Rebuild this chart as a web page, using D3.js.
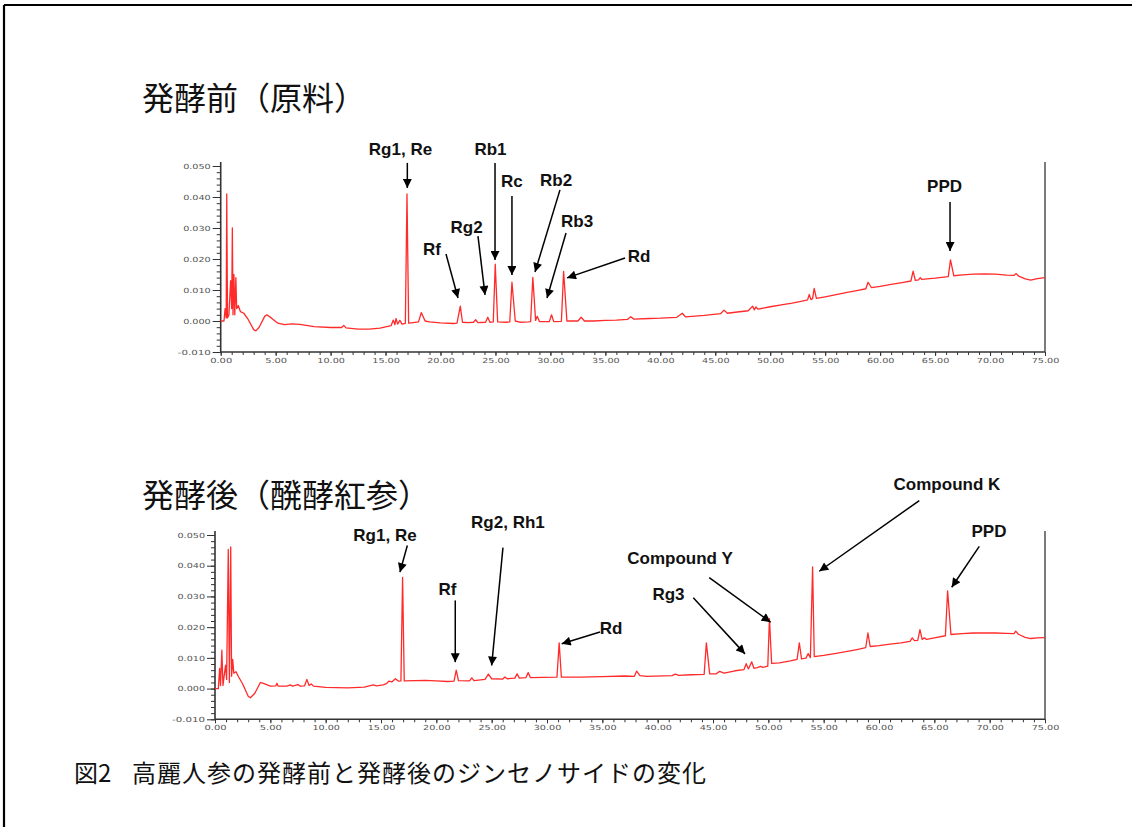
<!DOCTYPE html>
<html><head><meta charset="utf-8">
<script src="https://cdn.jsdelivr.net/npm/d3@7/dist/d3.min.js"></script>
<style>
html,body{margin:0;padding:0;background:#fff;}
svg{display:block;}
</style></head>
<body>
<script>
// ---- data: raw ginseng (before fermentation) ----
const rawTime = [0,0.3,0.4,0.5,0.55,0.62,0.75,0.9,1.0,1.06,1.12,1.2,1.28,1.38,1.45,1.6,1.8,2.1,2.5,3.0,3.2,3.5,4.0,4.2,4.6,5.2,5.8,6.5,7.2,8.5,10.0,11.0,11.2,11.4,12.5,13.5,14.5,15.5,15.7,15.85,15.95,16.1,16.3,16.5,16.8,16.95,17.1,17.5,18.0,18.25,18.6,19.0,20.0,21.2,21.5,21.8,22.0,22.5,23.0,23.2,23.4,24.1,24.3,24.5,24.8,24.98,25.2,26.0,26.3,26.5,26.8,27.2,28.0,28.2,28.4,28.65,28.8,29.0,29.9,30.1,30.3,31.0,31.2,31.5,32.5,32.8,33.1,34.0,35.0,36.0,37.0,37.3,37.6,39.0,40.0,41.5,42.0,42.3,44.0,45.5,45.8,46.1,47.0,48.0,48.4,48.55,48.7,48.9,50.0,51.0,52.0,53.0,53.4,53.55,53.7,53.85,54.0,54.2,55.0,56.0,57.0,58.0,58.7,58.9,59.2,60.0,61.0,62.0,62.8,63.0,63.2,63.5,63.65,63.8,65.0,66.2,66.4,66.7,67.5,68.5,69.5,70.5,71.5,72.2,72.35,72.6,73.2,73.7,74.3,75.0];
const rawSignal = [0,0,0.004,0.001,0.041,0.001,0.002,0.013,0.004,0.030,0.002,0.015,0.002,0.014,0.004,0.005,0.003,0.0025,0.0005,-0.0028,-0.0032,-0.002,0.0015,0.002,0.001,-0.0007,-0.0012,-0.0009,-0.0011,-0.0018,-0.0021,-0.0021,-0.0014,-0.0022,-0.0026,-0.0026,-0.0023,-0.0015,0.0003,-0.0012,0.0008,-0.001,0.0002,-0.001,-0.0008,0.041,-0.0007,-0.0005,-0.0003,0.0027,0.0,-0.0003,-0.0006,-0.0008,-0.0007,0.0048,-0.0004,-0.0005,-0.0004,0.0004,-0.0005,-0.0004,0.0012,-0.0004,-0.0003,0.0183,-0.0003,-0.0004,-0.0003,0.0125,0.0,-0.0004,-0.0003,-0.0002,0.0141,0.0002,0.0015,-0.0002,-0.0002,0.002,-0.0002,-0.0001,0.016,0.0,0.0,0.0012,0.0,0.0,0.0002,0.0003,0.0005,0.0014,0.0006,0.0008,0.0009,0.0012,0.0025,0.0013,0.0018,0.0024,0.0035,0.0025,0.0029,0.0033,0.0048,0.0036,0.0045,0.0038,0.0046,0.0052,0.0058,0.0065,0.0068,0.0086,0.0069,0.0072,0.0105,0.0073,0.0078,0.0085,0.0092,0.0099,0.0104,0.0125,0.0108,0.0112,0.0118,0.0124,0.0129,0.0161,0.0131,0.0133,0.0140,0.0134,0.0138,0.0143,0.0197,0.0146,0.0149,0.0151,0.0152,0.0151,0.0148,0.0147,0.0153,0.0145,0.0136,0.0132,0.0137,0.0140];

// ---- data: fermented red ginseng (after fermentation) ----
const fermTime = [0,0.3,0.42,0.5,0.62,0.72,0.95,1.05,1.2,1.3,1.42,1.5,1.6,1.7,1.9,2.1,2.5,3.0,3.2,3.6,4.1,4.5,5.0,5.5,5.6,5.7,6.5,6.8,7.0,7.5,7.7,8.1,8.3,8.5,8.7,8.9,10.0,12.0,13.5,14.3,14.6,15.2,15.5,15.7,16.0,16.3,16.6,16.8,16.95,17.1,18.0,19.0,20.0,21.0,21.6,21.8,22.0,23.0,23.2,23.4,24.4,24.7,25.0,26.0,26.2,26.4,27.1,27.3,27.5,28.1,28.3,28.5,30.9,31.1,31.3,33.0,35.0,37.0,37.9,38.1,38.4,39.0,41.3,41.6,41.9,43.0,44.2,44.4,44.7,45.3,45.6,46.0,47.0,47.8,48.0,48.2,48.5,48.7,49.0,49.3,49.5,49.95,50.1,50.3,51.0,52.0,52.6,52.8,53.0,53.4,53.6,53.8,54.0,54.15,55.0,56.0,57.0,58.0,58.8,59.0,59.2,60.0,61.0,62.0,62.8,63.0,63.2,63.5,63.7,63.9,64.1,64.3,65.0,66.0,66.2,66.5,67.5,68.5,69.5,70.5,71.5,72.2,72.35,72.6,73.2,73.7,74.3,75.0];
const fermSignal = [0,0,0.0066,0.001,0.0125,0.001,0.0076,0.003,0.0453,0.002,0.0461,0.004,0.0095,0.005,0.0055,0.004,0.0015,-0.0025,-0.003,-0.0015,0.002,0.0015,0.0008,0.0009,0.0017,0.0008,0.0008,0.0012,0.0008,0.0013,0.0008,0.0009,0.003,0.001,0.0015,0.0008,0.0004,0.0002,0.0005,0.0012,0.0009,0.0012,0.0016,0.0024,0.0022,0.0032,0.0024,0.0025,0.0362,0.0025,0.0026,0.0027,0.0025,0.0023,0.0024,0.006,0.0026,0.0025,0.0035,0.0026,0.003,0.0047,0.0032,0.0031,0.0038,0.0032,0.0034,0.0048,0.0034,0.0036,0.0052,0.0036,0.0037,0.0149,0.0037,0.0037,0.0039,0.0041,0.004,0.0057,0.0042,0.004,0.0042,0.0047,0.0043,0.0045,0.0046,0.0149,0.0048,0.0048,0.0056,0.005,0.0058,0.0062,0.0081,0.0064,0.0087,0.0066,0.0068,0.0072,0.0069,0.0073,0.0228,0.0082,0.0084,0.009,0.0095,0.0149,0.0097,0.0099,0.0114,0.0101,0.0396,0.0104,0.0108,0.0114,0.012,0.0127,0.0133,0.0181,0.0137,0.014,0.0145,0.0149,0.0154,0.0165,0.0156,0.0157,0.0192,0.016,0.0165,0.016,0.0165,0.0172,0.0318,0.0176,0.0179,0.0181,0.0181,0.0181,0.018,0.0179,0.0187,0.0177,0.0167,0.0163,0.0165,0.0166];

// ---- axis ticks ----
const xTickValues = [0,5,10,15,20,25,30,35,40,45,50,55,60,65,70,75];
const xTickLabels = ["0.00","5.00","10.00","15.00","20.00","25.00","30.00","35.00","40.00","45.00","50.00","55.00","60.00","65.00","70.00","75.00"];
const yTickValues = [-0.01,0,0.01,0.02,0.03,0.04,0.05];
const yTickLabels = ["-0.010","0.000","0.010","0.020","0.030","0.040","0.050"];

// ---- texts ----
const titleBefore = "発酵前（原料）";
const titleAfter = "発酵後（醗酵紅参）";
const captionNo = "図2";
const captionText = "高麗人参の発酵前と発酵後のジンセノサイドの変化";

// ---- peak annotations (data units: [time, absorbance]) ----
const rawLabels = ["Rg1, Re","Rf","Rg2","Rb1","Rc","Rb2","Rb3","Rd","PPD"];
const rawLabelAt = [[16.36,0.0535],[19.23,0.0213],[22.37,0.0284],[24.55,0.0535],[26.5,0.0432],[30.52,0.0435],[32.43,0.0303],[38.06,0.019],[65.86,0.0416]];
const rawArrowFrom = [[16.98,0.0510],[20.5,0.0216],[23.41,0.0274],[24.96,0.0510],[26.5,0.0403],[30.87,0.0423],[31.42,0.0284],[36.79,0.0203],[66.36,0.0384]];
const rawArrowTo = [[16.98,0.0429],[21.59,0.0074],[24.05,0.0084],[24.96,0.0197],[26.5,0.0148],[28.6,0.0158],[29.69,0.0074],[31.51,0.0139],[66.36,0.0226]];

const fermLabels = ["Rg1, Re","Rf","Rg2, Rh1","Rd","Rg3","Compound Y","Compound K","PPD"];
const fermLabelAt = [[15.36,0.0479],[21.0,0.0306],[26.47,0.0524],[35.78,0.0179],[40.98,0.0287],[42.02,0.0404],[66.14,0.0647],[69.94,0.0493]];
const fermArrowFrom = [[17.38,0.0466],[21.71,0.0287],[26.02,0.0459],[34.79,0.0184],[43.22,0.0296],[44.66,0.0361],[63.64,0.0612],[69.06,0.0463]];
const fermArrowTo = [[16.71,0.0379],[21.71,0.0086],[25.0,0.0075],[31.33,0.0146],[47.89,0.0113],[50.21,0.0216],[54.6,0.0382],[66.57,0.033]];

// ---- drawing ----
const W = 1132, H = 827;
const svg = d3.select("body").append("svg").attr("width", W).attr("height", H);

const defs = svg.append("defs");
defs.append("marker").attr("id","arrow").attr("markerUnits","userSpaceOnUse")
  .attr("viewBox","0 0 10 10").attr("refX",10).attr("refY",5)
  .attr("markerWidth",10).attr("markerHeight",9).attr("orient","auto")
  .append("path").attr("d","M0,0 L10,5 L0,10 Z").attr("fill","#000");

// frame
svg.append("line").attr("x1",4).attr("x2",W).attr("y1",5).attr("y2",5).attr("stroke","#000").attr("stroke-width",2.2);
svg.append("line").attr("x1",4).attr("x2",4).attr("y1",5).attr("y2",H).attr("stroke","#000").attr("stroke-width",2.2);

const titleFont = "'Noto Sans CJK JP','Noto Sans CJK SC',sans-serif";
svg.append("text").attr("x",142).attr("y",110).text(titleBefore)
  .attr("font-family",titleFont).attr("font-size",32).attr("fill","#111");
svg.append("text").attr("x",142).attr("y",507).text(titleAfter)
  .attr("font-family",titleFont).attr("font-size",32).attr("fill","#111");
svg.append("text").attr("x",74).attr("y",782).text(captionNo)
  .attr("font-family",titleFont).attr("font-size",24).attr("fill","#111");
svg.append("text").attr("x",132).attr("y",782).text(captionText)
  .attr("font-family",titleFont).attr("font-size",24).attr("fill","#111")
  .attr("textLength",574).attr("lengthAdjust","spacing");

function panel(cfg, times, values, labels, labelAt, arrowFrom, arrowTo) {
  const x = d3.scaleLinear().domain([0,75]).range([cfg.left, cfg.right]);
  const y = d3.scaleLinear().domain([-0.01,0.05]).range([cfg.bottom, cfg.top]);
  const g = svg.append("g");

  const tickFont = g => g.selectAll("text")
      .attr("font-family","'DejaVu Sans',sans-serif").attr("font-size",7)
      .attr("fill","#555")
      .attr("textLength", function(){ return this.textContent.length * 5.5; })
      .attr("lengthAdjust","spacingAndGlyphs");

  // y minor ticks
  g.append("g").attr("transform",`translate(${cfg.left},0)`)
    .call(d3.axisLeft(y).tickValues(d3.range(-0.01,0.0501,0.002)).tickFormat("").tickSize(4).tickSizeOuter(0))
    .call(a => a.select(".domain").remove())
    .call(a => a.selectAll("line").attr("stroke","#333"));
  // y major ticks
  g.append("g").attr("transform",`translate(${cfg.left},0)`)
    .call(d3.axisLeft(y).tickValues(yTickValues).tickFormat((d,i)=>yTickLabels[i]).tickSize(8).tickPadding(2).tickSizeOuter(0))
    .call(a => a.select(".domain").remove())
    .call(a => a.selectAll("line").attr("stroke","#333"))
    .call(tickFont);
  // x minor ticks
  g.append("g").attr("transform",`translate(0,${cfg.bottom})`)
    .call(d3.axisBottom(x).tickValues(d3.range(0,76,1)).tickFormat("").tickSize(3).tickSizeOuter(0))
    .call(a => a.select(".domain").remove())
    .call(a => a.selectAll("line").attr("stroke","#333"));
  // x major ticks
  g.append("g").attr("transform",`translate(0,${cfg.bottom})`)
    .call(d3.axisBottom(x).tickValues(xTickValues).tickFormat((d,i)=>xTickLabels[i]).tickSize(4).tickPadding(2).tickSizeOuter(0))
    .call(a => a.select(".domain").remove())
    .call(a => a.selectAll("line").attr("stroke","#333"))
    .call(tickFont);

  // axis lines
  g.append("line").attr("x1",x(0)).attr("x2",x(75)).attr("y1",y(-0.01)).attr("y2",y(-0.01))
    .attr("stroke","#333").attr("stroke-width",1.6);
  g.append("line").attr("x1",x(0)).attr("x2",x(0)).attr("y1",cfg.top-4).attr("y2",y(-0.01))
    .attr("stroke","#333").attr("stroke-width",1.6);
  g.append("line").attr("x1",x(75)).attr("x2",x(75)).attr("y1",cfg.top-4).attr("y2",y(-0.01))
    .attr("stroke","#444").attr("stroke-width",1.4);

  // trace
  const line = d3.line().x((d,i)=>x(times[i])).y(d=>y(d));
  g.append("path").datum(values).attr("d",line)
    .attr("fill","none").attr("stroke","#ff2b2b").attr("stroke-width",1.3)
    .attr("stroke-linejoin","round");

  // annotations
  labels.forEach((lab,i) => {
    g.append("text").attr("x",x(labelAt[i][0])).attr("y",y(labelAt[i][1]))
      .attr("text-anchor","middle").text(lab)
      .attr("font-family","'Liberation Sans',Arial,sans-serif").attr("font-weight","bold")
      .attr("font-size",17).attr("fill","#111");
    g.append("line")
      .attr("x1",x(arrowFrom[i][0])).attr("y1",y(arrowFrom[i][1]))
      .attr("x2",x(arrowTo[i][0])).attr("y2",y(arrowTo[i][1]))
      .attr("stroke","#000").attr("stroke-width",1.5).attr("marker-end","url(#arrow)");
  });
}

panel({left:220.7, right:1045, top:166, bottom:352}, rawTime, rawSignal, rawLabels, rawLabelAt, rawArrowFrom, rawArrowTo);
panel({left:215, right:1045, top:535, bottom:719.3}, fermTime, fermSignal, fermLabels, fermLabelAt, fermArrowFrom, fermArrowTo);
</script>
</body></html>
